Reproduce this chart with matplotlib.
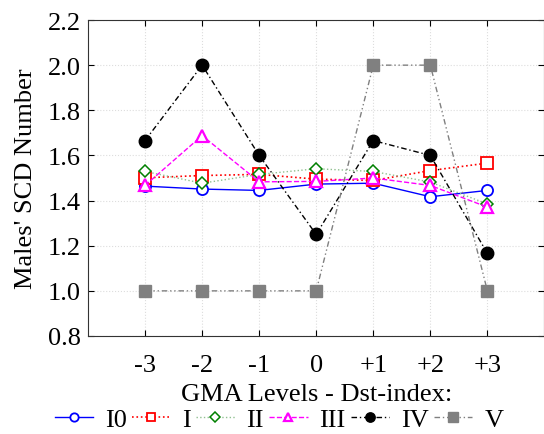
import matplotlib
matplotlib.use('Agg')
import matplotlib.pyplot as plt

plt.rcParams['font.family'] = ['Liberation Serif', 'DejaVu Serif']

# уровни возмущённости (Dst)
levels = [-3, -2, -1, 0, 1, 2, 3]
level_labels = ['-3', '-2', '-1', '0', '+1', '+2', '+3']

i0 = [1.464, 1.451, 1.445, 1.473, 1.477, 1.417, 1.445]
i1 = [1.501, 1.511, 1.516, 1.495, 1.489, 1.533, 1.566]
i2 = [1.529, 1.477, 1.516, 1.541, 1.529, 1.482, 1.385]
i3 = [1.467, 1.688, 1.483, 1.485, 1.500, 1.467, 1.371]
i4 = [1.666, 2.000, 1.600, 1.250, 1.666, 1.600, 1.166]
i5 = [1.000, 1.000, 1.000, 1.000, 2.000, 2.000, 1.000]

fig = plt.figure(figsize=(5.44, 4.35), dpi=100)
ax = fig.add_axes([0.1618, 0.2253, 0.8390, 0.7264])

ax.plot(levels, i0, '-', color='blue', lw=1, marker='o', ms=8, mfc='white', mec='blue', mew=1.3, label='I0')
ax.plot(levels, i1, ':', color='red', lw=1.2, marker='s', ms=8, mfc='white', mec='red', mew=1.3, label='I')
ax.plot(levels, i2, ':', color='#90c090', lw=1, marker='D', ms=6.5, mfc='white', mec='green', mew=1.1, label='II')
ax.plot(levels, i3, '--', color='magenta', lw=1, marker='^', ms=8, mfc='white', mec='magenta', mew=1.6, label='III')
ax.plot(levels, i4, '-.', color='black', lw=1, marker='o', ms=9, mfc='black', mec='black', label='IV',
        dashes=[4, 2, 1, 2])
ax.plot(levels, i5, color='gray', lw=1, marker='s', ms=9, mfc='gray', mec='gray', label='V',
        dashes=[4, 2, 1, 2, 1, 2])

ax.set_xlim(-4, 4)
ax.set_ylim(0.8, 2.2)
ax.set_xticks(levels)
ax.set_xticklabels(level_labels)
ax.set_yticks([0.8, 1.0, 1.2, 1.4, 1.6, 1.8, 2.0, 2.2])
ax.set_yticklabels(['0.8', '1.0', '1.2', '1.4', '1.6', '1.8', '2.0', '2.2'])
ax.tick_params(direction='in', top=True, right=True, labelsize=19, length=4, pad=5)
ax.tick_params(axis='x', pad=13)
ax.grid(True, color='#dddddd', linestyle=':', lw=0.8)
for s in ax.spines.values():
    s.set_color('#333333')

ax.set_ylabel("Males' SCD Number", fontsize=19, labelpad=8)
ax.set_xlabel('GMA Levels - Dst-index:', fontsize=19, labelpad=5)

fig.legend(*ax.get_legend_handles_labels(), loc='center', bbox_to_anchor=(0.513, 0.034), ncol=6,
           frameon=False, fontsize=19, handlelength=1.45, handletextpad=0.45, columnspacing=0.2,
           markerscale=0.75, borderpad=0)

fig.savefig('out.png', dpi=100)
